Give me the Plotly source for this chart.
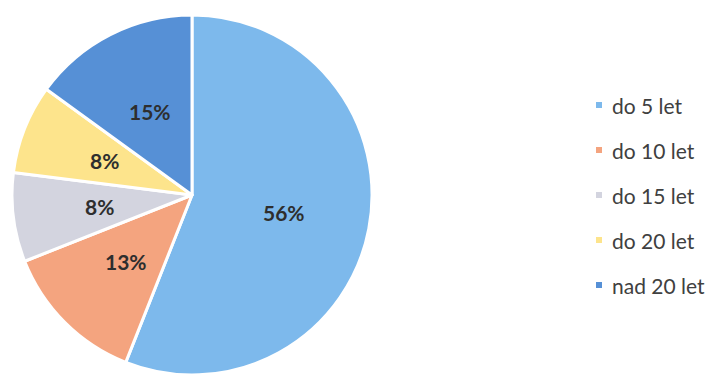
import math
import plotly.graph_objects as go

# Age structure shares
categories = ["do 5 let", "do 10 let", "do 15 let", "do 20 let", "nad 20 let"]
shares = [56, 13, 8, 8, 15]
colors = ["#7db9ec", "#f4a47f", "#d3d4df", "#fde48c", "#5690d6"]

W, H = 715, 375

# Pie placement (pixels)
cx, cy, R = 192, 195, 180
dom_x = [(cx - R) / W, (cx + R) / W]
dom_y = [1 - (cy + R) / H, 1 - (cy - R) / H]

fig = go.Figure()
fig.add_trace(go.Pie(
    labels=categories,
    values=shares,
    sort=False,
    direction="clockwise",
    rotation=0,
    marker=dict(colors=colors, line=dict(color="white", width=3)),
    textinfo="none",
    showlegend=False,
    hoverinfo="label+percent",
    domain=dict(x=dom_x, y=dom_y),
))

annotations = []

# Percentage labels at the middle angle of each slice, about half-way out
total = sum(shares)
cum = 0
label_r = 0.52 * R
for v in shares:
    mid = (cum + v / 2) / total * 2 * math.pi
    cum += v
    px = cx + label_r * math.sin(mid)
    py = cy - label_r * math.cos(mid)
    annotations.append(dict(
        x=px / W, y=1 - py / H, xref="paper", yref="paper",
        text=f"{v}%", showarrow=False, xanchor="center", yanchor="middle",
        font=dict(family="Lato", size=21, color="#2e2e2e", weight="bold"),
    ))

# Legend drawn as small square swatches plus labels on the right
legend_x = 599
legend_y0 = 105
legend_step = 45
shapes = []
for i, (name, col) in enumerate(zip(categories, colors)):
    yc = legend_y0 + i * legend_step
    shapes.append(dict(
        type="rect", xref="paper", yref="paper",
        x0=(legend_x - 3) / W, x1=(legend_x + 3) / W,
        y0=1 - (yc + 3) / H, y1=1 - (yc - 3) / H,
        fillcolor=col, line=dict(width=0),
    ))
    annotations.append(dict(
        x=(legend_x + 11) / W, y=1 - yc / H, xref="paper", yref="paper",
        text=name, showarrow=False, xanchor="left", yanchor="middle",
        font=dict(family="Lato", size=21, color="#404040"),
    ))

fig.update_layout(
    width=W, height=H,
    margin=dict(l=0, r=0, t=0, b=0),
    paper_bgcolor="white",
    plot_bgcolor="white",
    shapes=shapes,
    annotations=annotations,
)

fig.write_html("out.html")
